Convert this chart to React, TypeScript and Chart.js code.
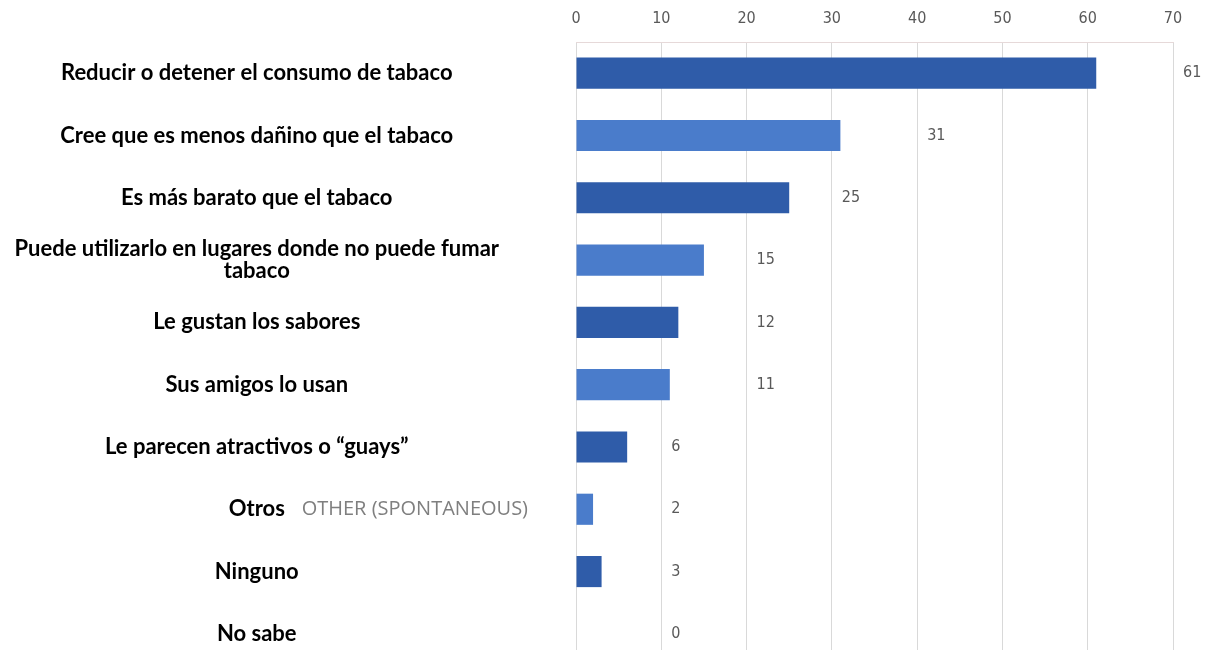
import React, { useEffect, useRef } from "react";
import { Chart, registerables } from "chart.js";

Chart.register(...registerables);

const categories: (string | string[])[] = [
  "Reducir o detener el consumo de tabaco",
  "Cree que es menos dañino que el tabaco",
  "Es más barato que el tabaco",
  ["Puede utilizarlo en lugares donde no puede fumar", "tabaco"],
  "Le gustan los sabores",
  "Sus amigos lo usan",
  "Le parecen atractivos o “guays”",
  "Otros",
  "Ninguno",
  "No sabe",
];
const values = [61, 31, 25, 15, 12, 11, 6, 2, 3, 0];
const xTicks = [0, 10, 20, 30, 40, 50, 60, 70];
const leftoverText = "OTHER (SPONTANEOUS)";
const leftoverIndex = 7;

const DARK = "#2F5CA9";
const LIGHT = "#4A7CCB";
const TICK_FONT = '"Liberation Sans Narrow", "DejaVu Sans Condensed", sans-serif';

export default function App() {
  const ref = useRef<HTMLCanvasElement>(null);

  useEffect(() => {
    if (!ref.current) return;
    const valueLabels = {
      id: "valueLabels",
      afterDatasetsDraw(chart: any) {
        const ctx = chart.ctx;
        const xs = chart.scales.x;
        const meta = chart.getDatasetMeta(0);
        ctx.save();
        ctx.font = `16px ${TICK_FONT}`;
        ctx.fillStyle = "#595959";
        ctx.textAlign = "left";
        ctx.textBaseline = "middle";
        values.forEach((v, i) => {
          const next = Math.floor(v / 10) * 10 + 10;
          const x = xs.getPixelForValue(next) + 10;
          ctx.fillText(String(v), x, meta.data[i].y);
        });
        // leftover gray text from the source image
        ctx.font = '20px "Open Sans", sans-serif';
        ctx.fillStyle = "#7f7f7f";
        ctx.textAlign = "right";
        ctx.fillText(leftoverText, chart.chartArea.left - 48, meta.data[leftoverIndex].y);
        ctx.restore();
      },
    };

    const chart = new Chart(ref.current, {
      type: "bar",
      data: {
        labels: categories,
        datasets: [
          {
            data: values,
            backgroundColor: values.map((_, i) => (i % 2 === 0 ? DARK : LIGHT)),
            borderWidth: 0,
            barPercentage: 0.5,
            categoryPercentage: 1,
          },
        ],
      },
      options: {
        indexAxis: "y",
        animation: false,
        responsive: true,
        maintainAspectRatio: false,
        layout: { padding: { top: 2, right: 38, bottom: 3, left: 0 } },
        plugins: { legend: { display: false }, tooltip: { enabled: false } },
        scales: {
          x: {
            position: "top",
            min: 0,
            max: 70,
            afterBuildTicks: (s: any) => {
              s.ticks = xTicks.map((v) => ({ value: v }));
            },
            afterFit: (s: any) => {
              s.paddingLeft = 0;
              s.paddingRight = 0;
              s.height = 40;
            },
            grid: { color: "#d9d9d9", drawTicks: false },
            border: { color: "#e6d9d9" },
            ticks: {
              padding: 14,
              color: "#595959",
              font: { family: TICK_FONT, size: 16 },
            },
          },
          y: {
            afterFit: (s: any) => {
              s.width = 576;
              s.paddingTop = 0;
              s.paddingBottom = 0;
            },
            grid: { display: false },
            border: { display: false },
            ticks: {
              crossAlign: "center",
              padding: 69,
              color: "#000000",
              font: { family: "Lato, sans-serif", size: 22, weight: "bold", lineHeight: 1.0 },
            },
          },
        },
      },
      plugins: [valueLabels],
    });
    return () => chart.destroy();
  }, []);

  return (
    <div style={{ position: "fixed", top: 0, left: 0, width: 1211, height: 668, background: "#fff" }}>
      <canvas ref={ref} />
    </div>
  );
}
